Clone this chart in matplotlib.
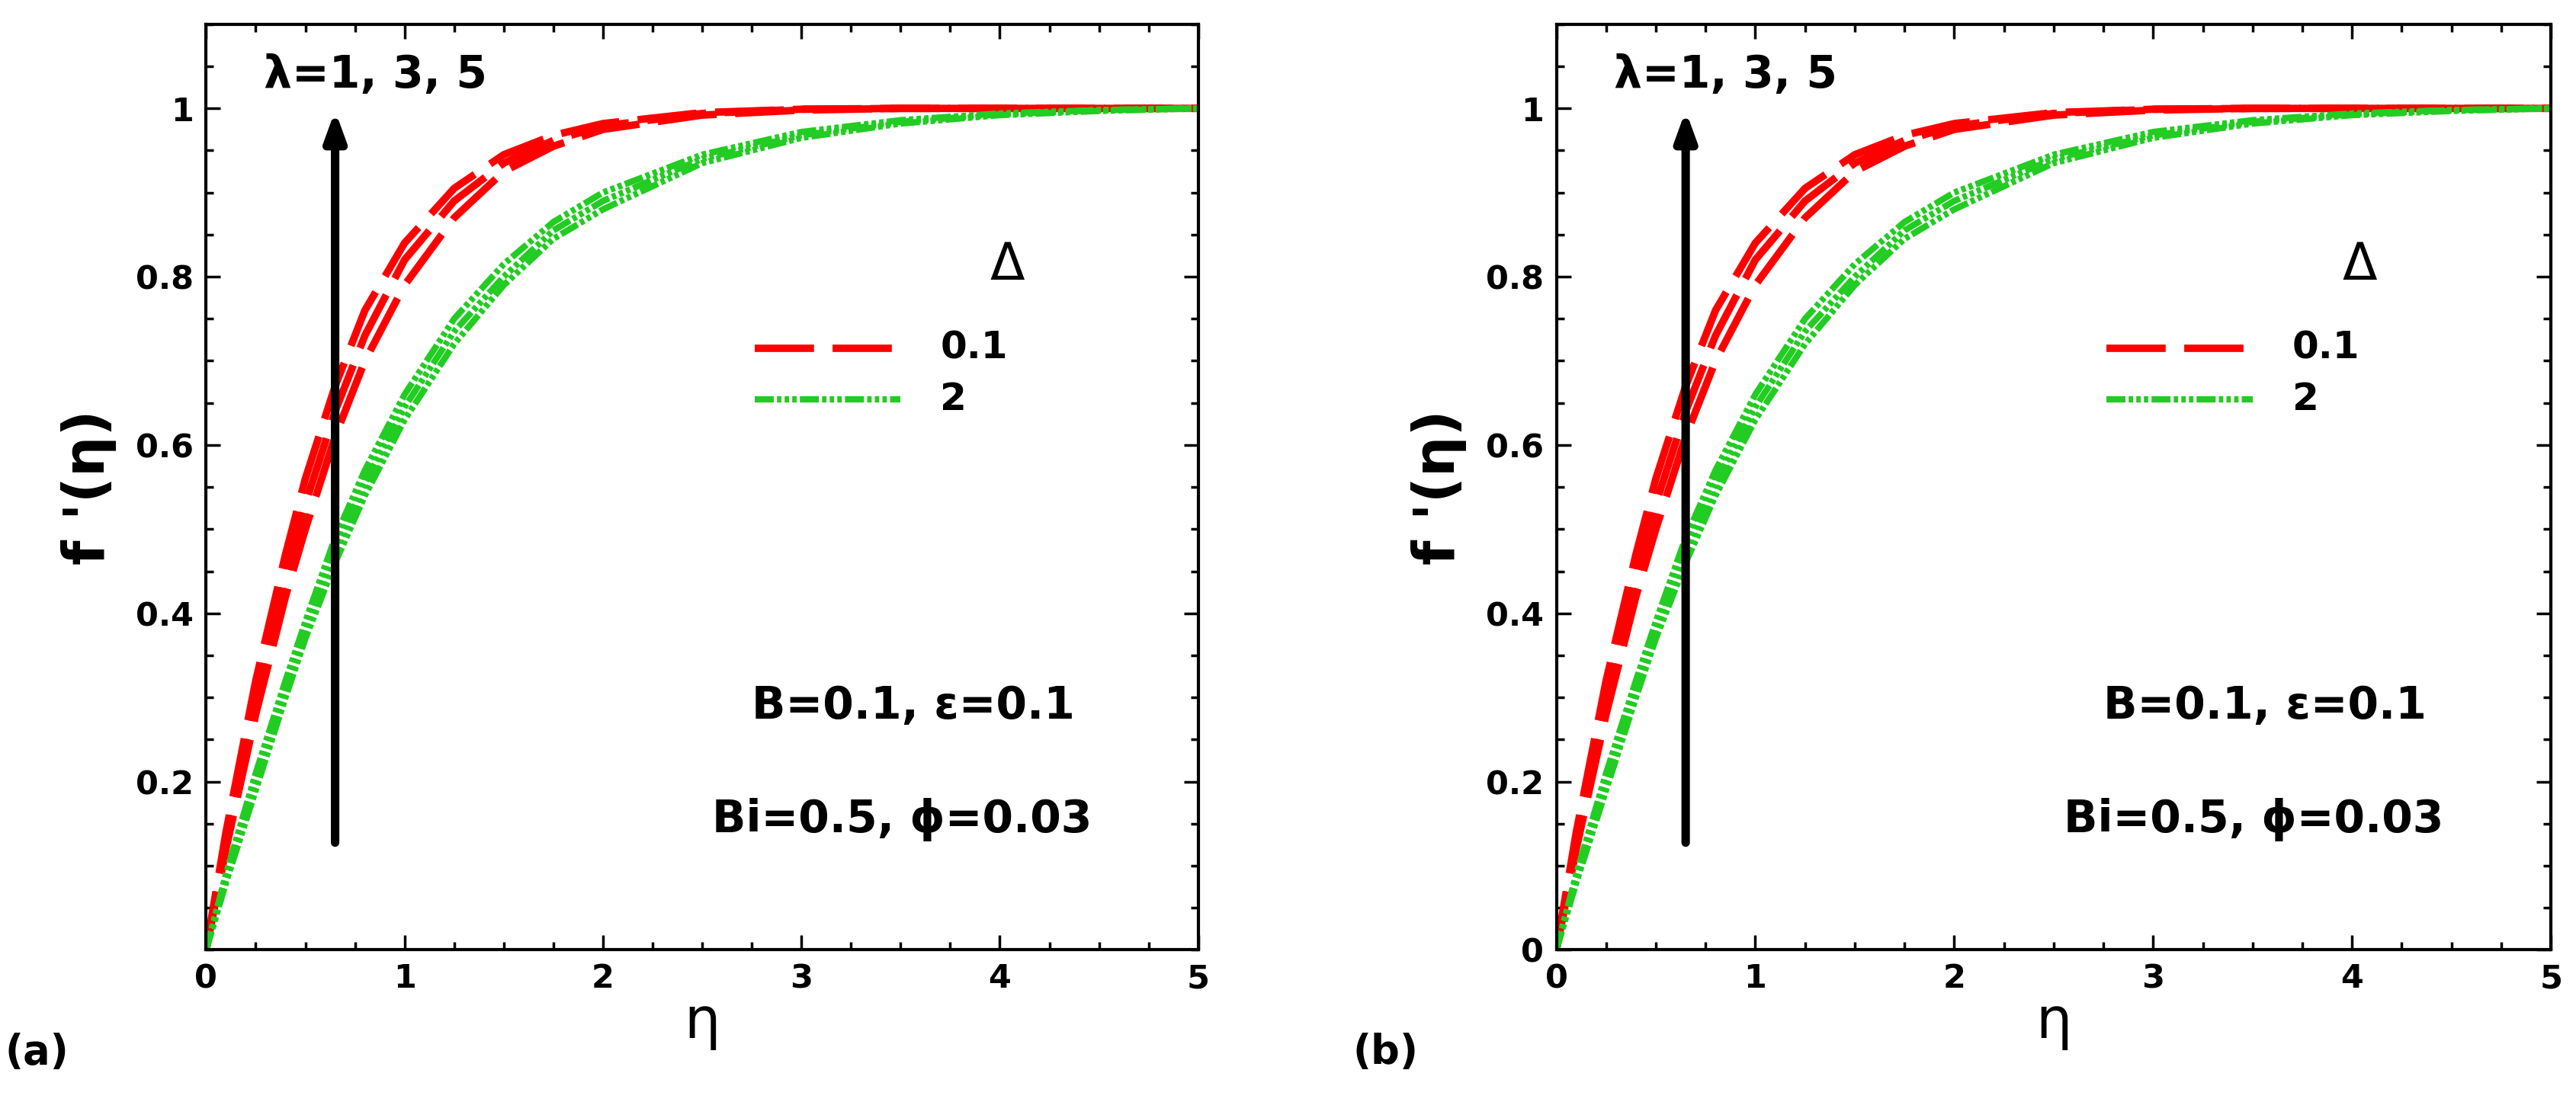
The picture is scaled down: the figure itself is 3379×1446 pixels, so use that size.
import matplotlib
matplotlib.use("Agg")
import matplotlib.pyplot as plt
import numpy as np
from matplotlib.ticker import MultipleLocator

eta = [0, 0.1, 0.25, 0.4, 0.5, 0.65, 0.8, 1.0, 1.25, 1.5, 1.75, 2.0, 2.5, 3.0, 3.5, 4.0, 4.5, 5.0]
red = {
    1: [0, 0.12, 0.28, 0.42, 0.50, 0.61, 0.70, 0.79, 0.87, 0.925, 0.955, 0.975, 0.992, 0.998, 1.0, 1.0, 1.0, 1.0],
    3: [0, 0.13, 0.30, 0.44, 0.53, 0.64, 0.73, 0.82, 0.89, 0.935, 0.962, 0.979, 0.994, 0.999, 1.0, 1.0, 1.0, 1.0],
    5: [0, 0.14, 0.32, 0.47, 0.56, 0.67, 0.76, 0.84, 0.905, 0.945, 0.968, 0.982, 0.995, 0.999, 1.0, 1.0, 1.0, 1.0],
}
green = {
    1: [0, 0.08, 0.19, 0.30, 0.37, 0.46, 0.54, 0.63, 0.72, 0.79, 0.845, 0.88, 0.935, 0.965, 0.982, 0.992, 0.997, 1.0],
    3: [0, 0.085, 0.20, 0.31, 0.38, 0.475, 0.555, 0.645, 0.735, 0.80, 0.855, 0.89, 0.94, 0.968, 0.984, 0.993, 0.998, 1.0],
    5: [0, 0.09, 0.21, 0.32, 0.39, 0.49, 0.57, 0.66, 0.75, 0.815, 0.865, 0.90, 0.945, 0.972, 0.986, 0.994, 0.998, 1.0],
}
yticks_a = [0.2, 0.4, 0.6, 0.8, 1.0]
yticks_b = [0, 0.2, 0.4, 0.6, 0.8, 1.0]

fig = plt.figure(figsize=(33.8, 14.46), dpi=100)
plt.rcParams['font.family'] = ['DejaVu Sans']
plt.rcParams['font.weight'] = 'bold'

RD = (8, 2.5)
GD = (3, 0.5, 0.7, 0.5, 0.7, 0.5, 0.7, 0.5)

def panel(rect, yticks, label, lx):
    ax = fig.add_axes(rect)
    for k in red:
        ax.plot(eta, red[k], color='red', lw=7, dashes=RD)
    for k in green:
        ax.plot(eta, green[k], color='#22cc22', lw=6, dashes=GD)
    ax.set_xlim(0, 5); ax.set_ylim(0, 1.1)
    ax.set_xticks([0, 1, 2, 3, 4, 5]); ax.set_yticks(yticks)
    ax.set_yticklabels([('%g' % v) for v in yticks])
    ax.xaxis.set_minor_locator(MultipleLocator(0.25))
    ax.yaxis.set_minor_locator(MultipleLocator(0.05))
    ax.tick_params(which='both', direction='in', top=True, right=True, width=2.5)
    ax.tick_params(which='major', length=14, labelsize=31, pad=12)
    ax.tick_params(which='minor', length=7)
    for s in ax.spines.values():
        s.set_linewidth(3)
    for t in ax.get_xticklabels() + ax.get_yticklabels():
        t.set_fontweight('bold')
    ax.set_xlabel('η', fontsize=54, labelpad=0)
    ax.set_ylabel("f '(η)", fontsize=54, fontweight='bold', labelpad=18)
    ax.annotate('', xy=(0.65, 1.0), xytext=(0.65, 0.125),
                arrowprops=dict(arrowstyle='-|>,head_width=0.8,head_length=2.2', lw=8, color='black'))
    ax.text(0.29, 1.04, 'λ=1, 3, 5', fontsize=42, fontweight='bold', va='center')
    ax.text(2.75, 0.29, 'B=0.1, ε=0.1', fontsize=42, fontweight='bold', va='center')
    ax.text(2.55, 0.155, 'Bi=0.5, ϕ=0.03', fontsize=42, fontweight='bold', va='center')
    ax.text(0.79, 0.74, 'Δ', transform=ax.transAxes, fontsize=48, fontweight='normal', va='center')
    ax.plot([0.553, 0.70], [0.65, 0.65], transform=ax.transAxes, color='red', lw=7, dashes=RD)
    ax.plot([0.553, 0.70], [0.595, 0.595], transform=ax.transAxes, color='#22cc22', lw=6, dashes=GD)
    ax.text(0.74, 0.65, '0.1', transform=ax.transAxes, fontsize=36, fontweight='bold', va='center')
    ax.text(0.74, 0.595, '2', transform=ax.transAxes, fontsize=36, fontweight='bold', va='center')
    fig.text(lx, 0.045, label, fontsize=38, fontweight='bold', va='center')
    return ax

panel([0.080, 0.138, 0.385, 0.840], yticks_a, '(a)', 0.002)
panel([0.604, 0.138, 0.386, 0.840], yticks_b, '(b)', 0.525)
fig.savefig('out.png', dpi=100)
